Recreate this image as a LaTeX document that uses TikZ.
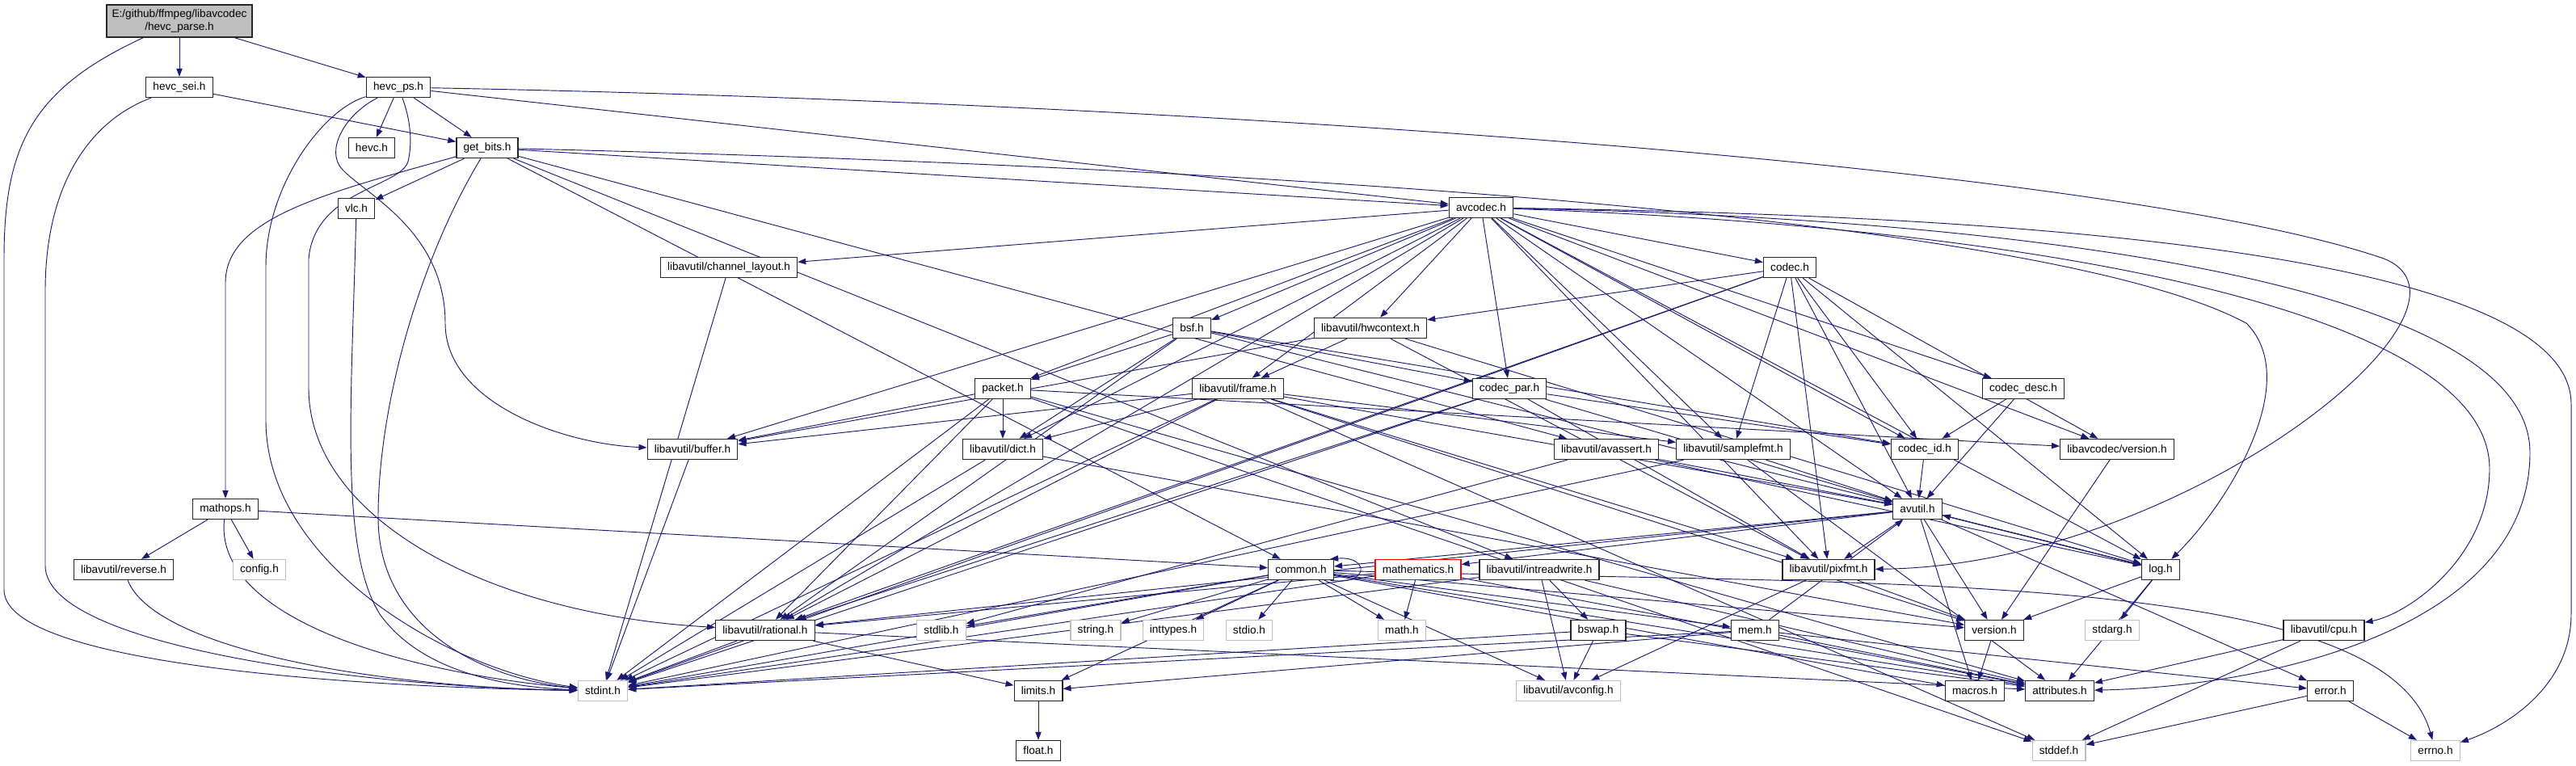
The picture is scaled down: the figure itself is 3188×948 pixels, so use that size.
\documentclass[tikz,border=0pt]{standalone}
\usepackage{fontspec}
\setmainfont{Liberation Sans}
\usepackage{tikz}
\usetikzlibrary{arrows.meta,backgrounds}
\definecolor{dxblue}{HTML}{191970}
\definecolor{dxgray}{HTML}{BFBFBF}
\tikzset{
  hdr/.style    ={rectangle, draw=black!85, line width=1pt, fill=white,
                  inner xsep=6.5pt, inner ysep=2pt, minimum height=18.75pt,
                  font=\fontsize{10.2}{12}\selectfont},
  syshdr/.style ={hdr, draw=dxgray},
  rootbox/.style={hdr, fill=dxgray, align=center, minimum height=30pt, inner xsep=5pt},
  cuthdr/.style ={hdr, draw=red},
  dep/.style    ={-{Triangle[length=7.5pt,width=5.5pt]}, draw=dxblue, line width=0.7pt},
}
\begin{document}
\begin{tikzpicture}[x=0.75pt, y=-0.75pt]
  \useasboundingbox (0,0) rectangle (3188,948);
  \node[rootbox] (root) at (222,26) {E:/github/ffmpeg/libavcodec\\/hevc\_parse.h};
  \node[hdr] (sei) at (222,108) {hevc\_sei.h};
  \node[hdr] (ps) at (493,108) {hevc\_ps.h};
  \node[hdr] (hevc) at (460,183) {hevc.h};
  \node[hdr] (getbits) at (603,183) {get\_bits.h};
  \node[hdr] (vlc) at (441,258) {vlc.h};
  \node[hdr] (avcodec) at (1833,257) {avcodec.h};
  \node[hdr] (chlayout) at (902,331) {libavutil/channel\_layout.h};
  \node[hdr] (codec) at (2215,331) {codec.h};
  \node[hdr] (bsf) at (1475,406) {bsf.h};
  \node[hdr] (hwctx) at (1696,406) {libavutil/hwcontext.h};
  \node[hdr] (packet) at (1241,481) {packet.h};
  \node[hdr] (frame) at (1532,481) {libavutil/frame.h};
  \node[hdr] (codecpar) at (1868,481) {codec\_par.h};
  \node[hdr] (codecdesc) at (2504,481) {codec\_desc.h};
  \node[hdr] (buffer) at (857,556) {libavutil/buffer.h};
  \node[hdr] (dict) at (1241,556) {libavutil/dict.h};
  \node[hdr] (avassert) at (1988,556) {libavutil/avassert.h};
  \node[hdr] (samplefmt) at (2145,556) {libavutil/samplefmt.h};
  \node[hdr] (codecid) at (2382,556) {codec\_id.h};
  \node[hdr] (lavcver) at (2620,556) {libavcodec/version.h};
  \node[hdr] (mathops) at (279,630) {mathops.h};
  \node[hdr] (avutil) at (2373,630) {avutil.h};
  \node[hdr] (reverse) at (153,705) {libavutil/reverse.h};
  \node[syshdr] (config) at (321,705) {config.h};
  \node[hdr] (common) at (1610,705) {common.h};
  \node[cuthdr] (mathem) at (1755,705) {mathematics.h};
  \node[hdr] (intrw) at (1905,705) {libavutil/intreadwrite.h};
  \node[hdr] (pixfmt) at (2263,705) {libavutil/pixfmt.h};
  \node[hdr] (log) at (2674,705) {log.h};
  \node[hdr] (rational) at (947,780) {libavutil/rational.h};
  \node[syshdr] (stdlib) at (1165,780) {stdlib.h};
  \node[syshdr] (string) at (1356,780) {string.h};
  \node[syshdr] (inttypes) at (1452,780) {inttypes.h};
  \node[syshdr] (stdio) at (1546,780) {stdio.h};
  \node[syshdr] (math) at (1735,780) {math.h};
  \node[hdr] (bswap) at (1978,780) {bswap.h};
  \node[hdr] (mem) at (2172,780) {mem.h};
  \node[hdr] (version) at (2468,780) {version.h};
  \node[syshdr] (stdarg) at (2614,780) {stdarg.h};
  \node[hdr] (cpu) at (2876,780) {libavutil/cpu.h};
  \node[syshdr] (stdint) at (746,855) {stdint.h};
  \node[hdr] (limits) at (1285,855) {limits.h};
  \node[syshdr] (avconfig) at (1941,855) {libavutil/avconfig.h};
  \node[hdr] (macros) at (2444,855) {macros.h};
  \node[hdr] (attributes) at (2549,855) {attributes.h};
  \node[hdr] (error) at (2884,855) {error.h};
  \node[hdr] (floath) at (1285,929) {float.h};
  \node[syshdr] (stddef) at (2548,929) {stddef.h};
  \node[syshdr] (errno) at (3014,929) {errno.h};

  \begin{scope}[on background layer]
    \foreach \tg in {sei,ps}{\draw[dep] (root) -- (\tg);}
    \draw[dep] (root) .. controls (40,110) and (5,180) .. (5,320) -- (5,730)
      .. controls (5,820) and (420,850) .. (stdint);
    \draw[dep] (sei) -- (getbits);
    \draw[dep] (sei) .. controls (110,150) and (56,230) .. (56,360) -- (56,700)
      .. controls (56,800) and (450,850) .. (stdint);
    \foreach \tg in {hevc,getbits,avcodec}{\draw[dep] (ps) -- (\tg);}
    \draw[dep] (ps) .. controls (400,135) and (329,230) .. (329,330) -- (329,520)
      .. controls (329,700) and (560,830) .. (stdint);
    \draw[dep] (ps) .. controls (505,140) and (512,170) .. (505,200)
      .. controls (495,232) and (390,235) .. (382,320) -- (382,480)
      .. controls (382,640) and (600,760) .. (rational);
    \draw[dep] (ps) .. controls (430,140) and (405,180) .. (420,205)
      .. controls (440,235) and (551,280) .. (551,400)
      .. controls (551,500) and (700,550) .. (buffer);
    \draw[dep] (ps) .. controls (1400,125) and (2600,200) .. (2950,320)
      .. controls (3100,380) and (2700,700) .. (pixfmt);
    \foreach \tg in {vlc,avcodec,common,intrw,avassert}{\draw[dep] (getbits) -- (\tg);}
    \draw[dep] (getbits) .. controls (400,240) and (279,270) .. (279,350) -- (mathops);
    \draw[dep] (getbits) .. controls (520,320) and (468,500) .. (468,640)
      .. controls (468,780) and (600,840) .. (stdint);
    \draw[dep] (getbits) .. controls (1300,200) and (2500,250) .. (2780,400)
      .. controls (2850,470) and (2760,620) .. (log);
    \draw[dep] (vlc) .. controls (435,500) and (420,680) .. (470,760)
      .. controls (520,830) and (620,850) .. (stdint);
    \foreach \tg in {reverse,config,common}{\draw[dep] (mathops) -- (\tg);}
    \draw[dep] (mathops) .. controls (265,760) and (480,830) .. (stdint);
    \draw[dep] (reverse) .. controls (190,800) and (450,850) .. (stdint);
    \foreach \tg in {chlayout,buffer,dict,packet,bsf,frame,hwctx,codecpar,samplefmt,
                     codec,codecid,avutil,codecdesc,lavcver,log,pixfmt,rational}
      {\draw[dep] (avcodec) -- (\tg);}
    \draw[dep] (avcodec) .. controls (2400,265) and (3182,300) .. (3182,500) -- (3182,760)
      .. controls (3182,850) and (3100,900) .. (errno);
    \draw[dep] (avcodec) .. controls (2500,270) and (3131,350) .. (3131,560)
      .. controls (3131,780) and (2800,850) .. (attributes);
    \draw[dep] (avcodec) .. controls (2500,280) and (3081,380) .. (3081,580)
      .. controls (3081,690) and (2980,760) .. (cpu);
    \draw[dep] (chlayout) -- (stdint);
    \foreach \tg in {dict,log,rational,codecid,codecpar,packet}{\draw[dep] (bsf) -- (\tg);}
    \foreach \tg in {stdint,avutil,hwctx,log,pixfmt,rational,samplefmt,codecid,lavcver}
      {\draw[dep] (codec) -- (\tg);}
    \foreach \tg in {avutil,codecid}{\draw[dep] (codecdesc) -- (\tg);}
    \draw[dep] (codecid) -- (avutil);
    \foreach \tg in {stdint,avutil,rational,pixfmt,codecid}{\draw[dep] (codecpar) -- (\tg);}
    \foreach \tg in {stddef,stdint,attributes,buffer,dict,rational,lavcver}
      {\draw[dep] (packet) -- (\tg);}
    \foreach \tg in {stddef,stdint,avutil,buffer,dict,rational,samplefmt,pixfmt,version}
      {\draw[dep] (frame) -- (\tg);}
    \foreach \tg in {buffer,frame,log,pixfmt}{\draw[dep] (hwctx) -- (\tg);}
    \foreach \tg in {stdint,version}{\draw[dep] (dict) -- (\tg);}
    \draw[dep] (buffer) -- (stdint);
    \foreach \tg in {stdint,avutil,attributes}{\draw[dep] (samplefmt) -- (\tg);}
    \foreach \tg in {stdlib,avutil,log}{\draw[dep] (avassert) -- (\tg);}
    \foreach \tg in {common,error,rational,version,macros,mathem,log,pixfmt}
      {\draw[dep] (avutil) -- (\tg);}
    \foreach \tg in {inttypes,limits,math,stdint,stdio,stdlib,string,attributes,
                     macros,version,avconfig,mem}
      {\draw[dep] (common) -- (\tg);}
    \draw[dep] (common) .. controls (2300,725) and (2950,700) .. (errno);
    \draw[dep] (common.-20) .. controls (1695,725) and (1695,688) .. (common.20);
    \foreach \tg in {stdint,math,attributes,rational}{\draw[dep] (mathem) -- (\tg);}
    \foreach \tg in {stdint,avconfig,attributes,bswap}{\draw[dep] (intrw) -- (\tg);}
    \foreach \tg in {stdint,avconfig,attributes}{\draw[dep] (bswap) -- (\tg);}
    \foreach \tg in {limits,stdint,attributes,error,avutil}{\draw[dep] (mem) -- (\tg);}
    \foreach \tg in {avconfig,version}{\draw[dep] (pixfmt) -- (\tg);}
    \draw[dep] (version) -- (macros);
    \foreach \tg in {stdarg,avutil,attributes,version}{\draw[dep] (log) -- (\tg);}
    \foreach \tg in {errno,stddef}{\draw[dep] (error) -- (\tg);}
    \foreach \tg in {stddef,attributes}{\draw[dep] (cpu) -- (\tg);}
    \foreach \tg in {stdint,limits,attributes}{\draw[dep] (rational) -- (\tg);}
    \draw[dep] (limits) -- (floath);
    \draw[dep] (lavcver) -- (version);
  \end{scope}
\end{tikzpicture}
\end{document}
